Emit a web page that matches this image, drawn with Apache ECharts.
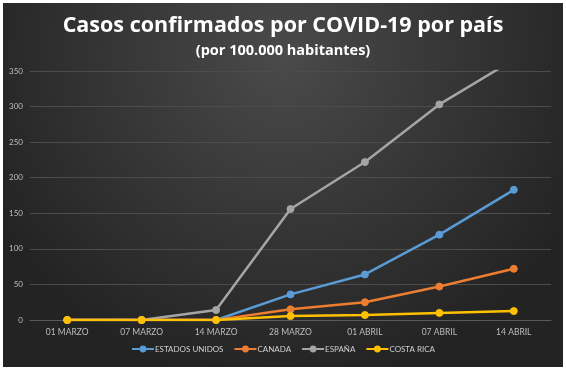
<!DOCTYPE html>
<html>
<head>
<meta charset="utf-8">
<script src="https://cdn.jsdelivr.net/npm/echarts@6/dist/echarts.min.js"></script>
<style>
  html, body { margin: 0; padding: 0; background: #fff; }
  #chart { position: absolute; left: 3px; top: 3px; width: 560px; height: 364px; }
</style>
</head>
<body>
<div id="chart"></div>
<script>
const fechas = ['01 MARZO', '07 MARZO', '14 MARZO', '28 MARZO', '01 ABRIL', '07 ABRIL', '14 ABRIL'];
const estadosUnidos = [0, 0, 0, 36, 64, 120, 183];
const canada = [0, 0, 0, 15, 25, 47, 72];
const espana = [0, 0, 14, 156, 222, 303, 366];
const costaRica = [0, 0, 0, 5.5, 7, 10, 12.5];

const chart = echarts.init(document.getElementById('chart'));

function serie(nombre, datos, color) {
    return {
        name: nombre,
        type: 'line',
        data: datos,
        symbol: 'circle',
        symbolSize: 7,
        clip: true,
        lineStyle: { color: color, width: 2.5 },
        itemStyle: { color: color, borderColor: color, borderWidth: 1 },
        emphasis: { disabled: true }
    };
}

const option = {
    backgroundColor: {
        type: 'radial', x: 0.5, y: 0.15, r: 0.9,
        colorStops: [
            { offset: 0, color: '#4a4a4a' },
            { offset: 1, color: '#232323' }
        ]
    },
    title: [
        {
            text: 'Casos confirmados por COVID-19 por país',
            left: 'center',
            top: 7,
            textStyle: { color: '#ffffff', fontSize: 21.5, fontWeight: 'bold', fontFamily: 'Open Sans' }
        },
        {
            text: '(por 100.000 habitantes)',
            left: 'center',
            top: 35,
            textStyle: { color: '#ffffff', fontSize: 14.5, fontWeight: 'bold', fontFamily: 'Open Sans' }
        }
    ],
    legend: {
        bottom: 9,
        left: 'center',
        itemWidth: 22,
        itemHeight: 6,
        itemGap: 10,
        textStyle: { color: '#d0d0d0', fontSize: 8, fontFamily: 'Lato', padding: [0, 0, 0, -4] },
        data: ['ESTADOS UNIDOS', 'CANADA', 'ESPAÑA', 'COSTA RICA']
    },
    grid: { left: 27, right: 12, top: 68, bottom: 47 },
    xAxis: {
        type: 'category',
        data: fechas,
        boundaryGap: true,
        axisLine: { lineStyle: { color: '#5a5a5a' } },
        axisTick: { show: false },
        axisLabel: { color: '#bdbdbd', fontSize: 8.5, fontFamily: 'Lato', margin: 8 }
    },
    yAxis: {
        type: 'value',
        min: 0,
        max: 350,
        interval: 50,
        axisLine: { show: false },
        axisTick: { show: false },
        axisLabel: { color: '#bdbdbd', fontSize: 8, fontFamily: 'Lato', margin: 7 },
        splitLine: { lineStyle: { color: '#4c4c4c', width: 1 } }
    },
    series: [
        serie('ESTADOS UNIDOS', estadosUnidos, '#5b9bd5'),
        serie('CANADA', canada, '#ed7d31'),
        serie('ESPAÑA', espana, '#a5a5a5'),
        serie('COSTA RICA', costaRica, '#ffc000')
    ]
};

chart.setOption(option);
</script>
</body>
</html>
